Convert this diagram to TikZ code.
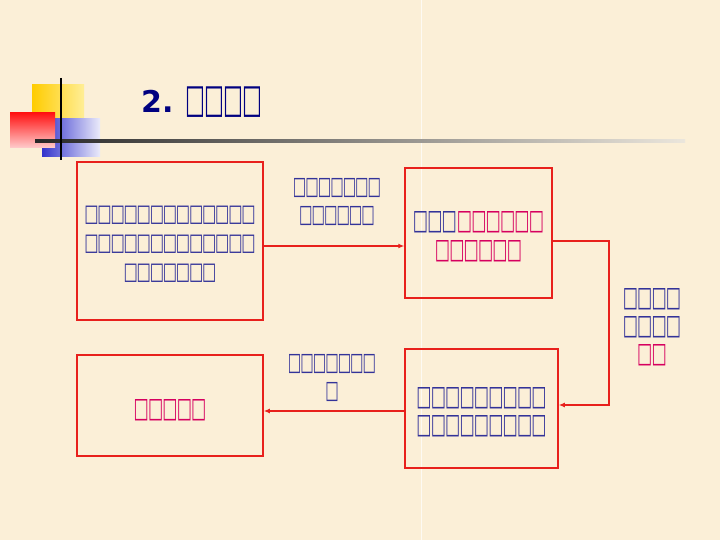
\documentclass[tikz,border=0pt]{standalone}
\usepackage{fontspec}
\newfontfamily\tfa[FakeStretch=0.63,LetterSpace=-5]{DejaVu Sans}
\newfontfamily\tfb[FakeStretch=0.575,LetterSpace=-3]{DejaVu Sans}
\newfontfamily\tfl[FakeStretch=0.57,LetterSpace=-4]{DejaVu Sans}
\newfontfamily\tft[FakeStretch=0.527,LetterSpace=-2]{DejaVu Sans}
\newfontfamily\tfn{DejaVu Sans}
\usetikzlibrary{arrows.meta}
\definecolor{bg}{HTML}{FBEFD7}
\definecolor{navy}{HTML}{333399}
\definecolor{tred}{HTML}{D6005F}
\definecolor{bred}{HTML}{E8201C}
\definecolor{ttl}{HTML}{000080}
\begin{document}
\begin{tikzpicture}[x=1pt,y=-1pt,
  box/.style={draw=bred, line width=1.5pt, inner sep=0pt},
  txt/.style={text=navy, align=center, inner sep=0pt},
  fa/.style={font=\tfa\fontsize{24}{29}\selectfont},
  fb/.style={font=\tfb\fontsize{28}{28.5}\selectfont},
  fl/.style={font=\tfl\fontsize{25}{28}\selectfont},
  conn/.style={draw=bred, line width=1.2pt, -{Latex[length=6pt,width=5pt]}}]
\fill[bg] (0,0) rectangle (720,540);
\useasboundingbox (0,0) rectangle (720,540);
\draw[white, line width=0.8pt, opacity=0.7] (421,0) -- (421,540);
% logo
\shade[left color={rgb,255:red,255;green,204;blue,0}, right color={rgb,255:red,255;green,238;blue,150}] (32,85) rectangle (84,120);
\shade[left color={rgb,255:red,51;green,51;blue,204}, right color={rgb,255:red,235;green,235;blue,250}] (42,119) rectangle (100,157);
\shade[shading angle=45, top color={rgb,255:red,255;green,20;blue,20}, bottom color={rgb,255:red,255;green,205;blue,205}] (10,113) rectangle (55,148);
\shade[left color={rgb,255:red,40;green,40;blue,40}, right color={rgb,255:red,235;green,230;blue,220}] (35,140) rectangle (685,142.5);
\draw[black, line width=1.5pt] (61,78) -- (61,160);
% title
\node[anchor=base west, inner sep=0pt, text=ttl] (title) at (141,113) {\tfn\bfseries\fontsize{30}{32}\selectfont 2.\hspace{12pt}\tft\mdseries\fontsize{40}{44}\selectfont □□□□};
% boxes
\node[box, minimum width=186pt, minimum height=158pt] (b1) at (170,241) {};
\node[box, minimum width=147pt, minimum height=130pt] (b2) at (478.5,233) {};
\node[box, minimum width=153pt, minimum height=119pt] (b3) at (481.5,408.5) {};
\node[box, minimum width=186pt, minimum height=101pt] (b4) at (170,405.5) {};
% box texts
\node[txt, fa] (t1) at (170,244) {□□□□□□□□□□□□□\\□□□□□□□□□□□□□\\□□□□□□□};
\node[txt, fb] (t2) at (478.5,236.5) {□□□\textcolor{tred}{□□□□□□}\\\textcolor{tred}{□□□□□□}};
\node[txt, fb] (t3) at (481.5,412) {□□□□□□□□□\\□□□□□□□□□};
\node[txt, fb, text=tred] (t4) at (170,410) {□□□□□};
% labels
\node[txt, fl] (l1) at (337,202) {□□□□□□□\\□□□□□□};
\node[txt, fb, font=\tfb\fontsize{28}{28}\selectfont] (l2) at (652,327) {□□□□\\□□□□\\\textcolor{tred}{□□}};
\node[txt, fl] (l3) at (332,378.5) {□□□□□□□\\□};
% connectors
\draw[conn] (b1.east|-0,246) -- (b2.west|-0,246);
\draw[conn] (b2.east|-0,241) -| (609,405) -- (b3.east|-0,405);
\draw[conn] (b3.west|-0,411) -- (b4.east|-0,411);
\end{tikzpicture}
\end{document}
